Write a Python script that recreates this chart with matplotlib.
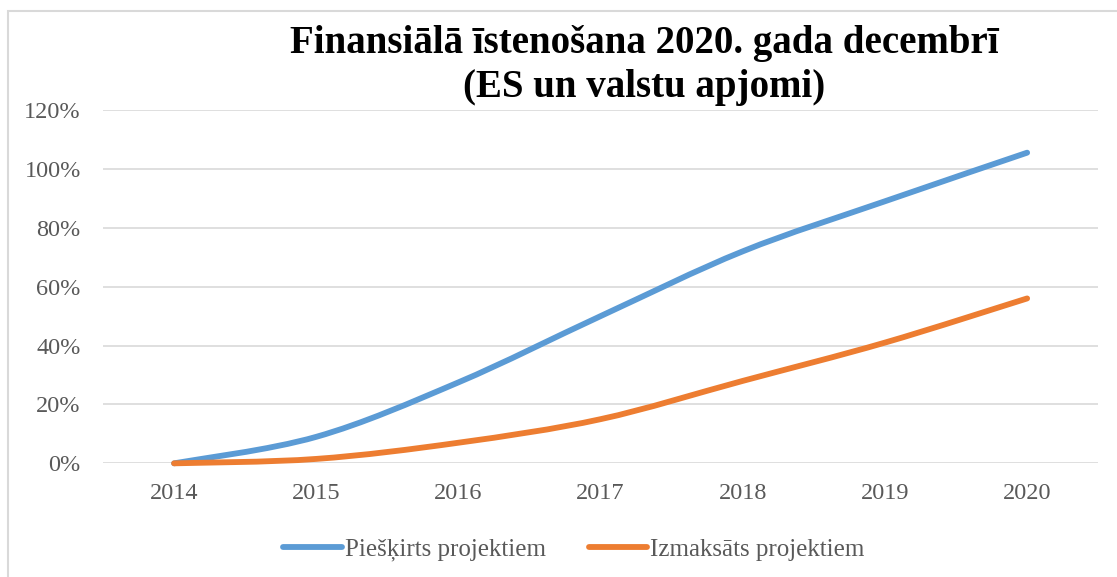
import matplotlib.pyplot as plt
from matplotlib.path import Path
from matplotlib.patches import PathPatch, Rectangle
from matplotlib.lines import Line2D
from matplotlib.ticker import PercentFormatter

# Dati
years = ['2014', '2015', '2016', '2017', '2018', '2019', '2020']
pieskirts = [0, 9, 27.5, 50, 72, 89, 105.5]
izmaksats = [0, 1.5, 7, 15, 28, 41, 56]

series_names = ['Piešķirts projektiem', 'Izmaksāts projektiem']
colors = ['#5B9BD5', '#ED7D31']
title = 'Finansiālā īstenošana 2020. gada decembrī\n(ES un valstu apjomi)'

plt.rcParams['font.family'] = ['Liberation Serif', 'DejaVu Serif']


def smooth_path(xs, ys):
    # Excel-style smoothed line: Bezier segments through each point
    pts = list(zip(xs, ys))
    n = len(pts)
    verts = [pts[0]]
    codes = [Path.MOVETO]
    for i in range(n - 1):
        p0 = pts[max(i - 1, 0)]
        p1 = pts[i]
        p2 = pts[i + 1]
        p3 = pts[min(i + 2, n - 1)]
        c1 = (p1[0] + (p2[0] - p0[0]) / 6, p1[1] + (p2[1] - p0[1]) / 6)
        c2 = (p2[0] - (p3[0] - p1[0]) / 6, p2[1] - (p3[1] - p1[1]) / 6)
        verts += [c1, c2, p2]
        codes += [Path.CURVE4] * 3
    return Path(verts, codes)


fig = plt.figure(figsize=(11.17, 5.77), dpi=100)
ax = fig.add_axes([0.0922, 0.197, 0.891, 0.6124])

x = list(range(len(years)))
for vals, c in zip([pieskirts, izmaksats], colors):
    patch = PathPatch(smooth_path(x, vals), fill=False, edgecolor=c, lw=4.2,
                      capstyle='round', joinstyle='round', zorder=3,
                      clip_on=False)
    ax.add_patch(patch)

ax.set_xlim(-0.5, len(years) - 0.5)
ax.set_ylim(0, 120)
ax.set_xticks(x)
ax.set_xticklabels(years)
ax.set_yticks(range(0, 121, 20))
ax.yaxis.set_major_formatter(PercentFormatter(decimals=0))
ax.grid(axis='y', color='#D9D9D9', lw=1.2)
ax.set_axisbelow(True)
for s in ax.spines.values():
    s.set_visible(False)
ax.tick_params(length=0, labelsize=17.5, labelcolor='#595959')
ax.tick_params(axis='x', pad=14)
ax.tick_params(axis='y', pad=16)

fig.text(0.577, 0.886, title, ha='center', va='center', fontsize=28,
         fontweight='bold', linespacing=1.25)

handles = [Line2D([], [], color=c, lw=4.2, solid_capstyle='round') for c in colors]
fig.legend(handles, series_names, loc='center', bbox_to_anchor=(0.514, 0.047),
           ncol=2, frameon=False, fontsize=18, handlelength=2.35,
           handletextpad=0.12, columnspacing=1.7, labelcolor='#595959')

# rāmis ap diagrammu
fig.patches.append(Rectangle((8 / 1117, -0.1), 1.1, 1 - 11 / 577 + 0.1,
                             transform=fig.transFigure, fill=False,
                             edgecolor='#D9D9D9', lw=1.5))

fig.savefig('out.png', dpi=100)
